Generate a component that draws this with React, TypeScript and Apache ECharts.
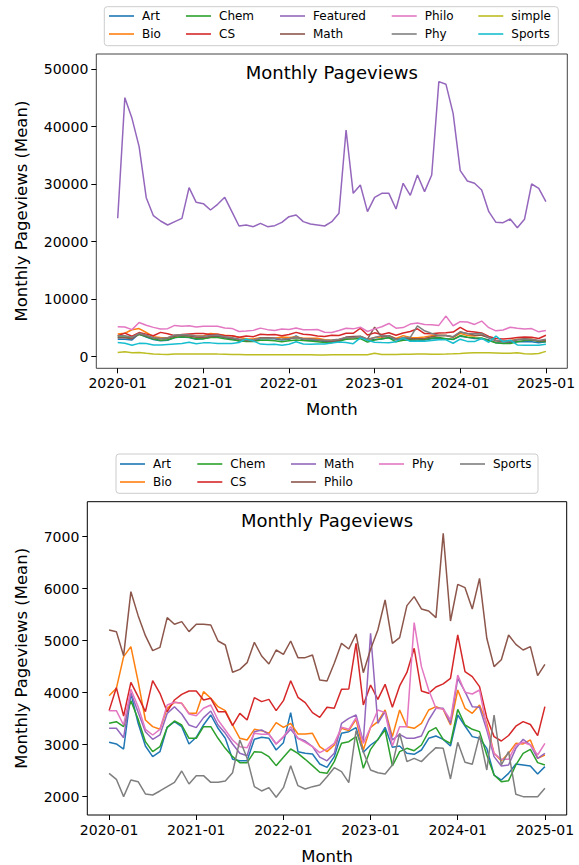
import React, { useEffect, useRef } from "react";
import * as echarts from "echarts";

const FONT = "DejaVu Sans";

const X_TICKS = [0, 12, 24, 36, 48, 60];
const X_TICK_LABELS = ["2020-01", "2021-01", "2022-01", "2023-01", "2024-01", "2025-01"];
const TOP_Y_TICKS = [0, 10000, 20000, 30000, 40000, 50000];
const BOTTOM_Y_TICKS = [2000, 3000, 4000, 5000, 6000, 7000];

const ART = [3046, 3014, 2917, 3988, 3411, 2975, 2770, 2866, 3334, 3443,
  3347, 3014, 3142, 3379, 3571, 3315, 3123, 2719, 2693, 2693,
  3103, 3142, 3123, 2898, 3039, 3616, 2866, 2834, 2821, 2629,
  2565, 2770, 3219, 3251, 3328, 2853, 2994, 3091, 3334, 2949,
  2975, 2834, 2815, 2898, 3123, 3167, 3103, 2975, 3571, 3360,
  3155, 3123, 2930, 2417, 2321, 2449, 2629, 2610, 2591, 2436,
  2578];
const BIO = [3943, 4084, 4693, 4885, 4212, 3475, 3347, 3296, 3700, 3815,
  3796, 3603, 3603, 4020, 3892, 3731, 3655, 3379, 3123, 3091,
  3296, 3270, 3219, 3424, 3334, 3411, 3206, 3206, 3219, 2962,
  2866, 2994, 3315, 3270, 3488, 2898, 3334, 3443, 3667, 3155,
  3667, 3347, 3315, 3411, 3667, 3731, 3680, 3379, 4052, 3699,
  3603, 3764, 3411, 2834, 2693, 2834, 3026, 3014, 3091, 2738,
  2802];
const CHEM = [3411, 3443, 3347, 3847, 3488, 3058, 2866, 2962, 3334, 3456,
  3379, 3123, 3123, 3347, 3347, 3123, 2930, 2770, 2655, 2655,
  2866, 2853, 2770, 2597, 2757, 2917, 2834, 2719, 2597, 2469,
  2449, 2674, 3026, 3058, 3155, 2545, 2911, 3103, 3283, 2591,
  2866, 2930, 2885, 2994, 3251, 3328, 3103, 3026, 3680, 3379,
  3296, 3251, 2802, 2417, 2289, 2308, 2610, 2834, 2911, 2655,
  2610];
const CS = [3655, 4097, 3552, 4199, 3924, 3635, 4231, 3988, 3635, 3860,
  3969, 4033, 4033, 3860, 3892, 3635, 3635, 3366, 3603, 3475,
  3905, 3828, 3872, 3655, 3847, 4231, 3911, 3808, 3616, 3526,
  3719, 3700, 4065, 4071, 4949, 3764, 4148, 3872, 4161, 3719,
  4130, 4390, 4853, 4033, 3988, 4110, 4170, 4276, 5110, 4405,
  4308, 4116, 3520, 3155, 3071, 3177, 3355, 3443, 3389, 3174,
  3731];
const MATH = [3315, 3315, 3135, 4001, 3622, 3251, 3103, 3187, 3603, 3731,
  3590, 3379, 3328, 3520, 3648, 3379, 3219, 3014, 2834, 2789,
  3251, 3283, 3200, 3014, 3142, 3296, 3123, 3071, 2962, 2760,
  2690, 2834, 3411, 3507, 3571, 3058, 5142, 3411, 3635, 3091,
  3200, 3123, 3123, 3167, 3475, 3699, 3699, 3411, 4276, 4020,
  3731, 3719, 3283, 2770, 2591, 2610, 2930, 3103, 2994, 2738,
  2834];
const PHILO = [5206, 5174, 4712, 5943, 5482, 5097, 4808, 4872, 5443, 5315,
  5366, 5174, 5315, 5315, 5302, 4994, 4917, 4392, 4449, 4578,
  4969, 4706, 4552, 4821, 4738, 4994, 4674, 4674, 4725, 4244,
  4225, 4565, 4949, 4840, 5129, 4385, 4834, 5206, 5783, 4949,
  5058, 5674, 5847, 5610, 5571, 5443, 7065, 5379, 6084, 6020,
  5610, 6199, 5046, 4501, 4635, 5110, 4930, 4821, 4885, 4328,
  4546];
const PHY = [3655, 3655, 3379, 4065, 3731, 3296, 3187, 3296, 3764, 3815,
  3796, 3590, 3558, 3700, 3764, 3475, 3283, 3091, 2962, 2943,
  3219, 3200, 3200, 3014, 3155, 3347, 3123, 3046, 2962, 2847,
  2920, 3026, 3334, 3296, 3520, 3026, 3334, 3667, 3616, 2975,
  3347, 3347, 5347, 4501, 4052, 3699, 3686, 3475, 4340, 4007,
  3975, 4052, 3334, 2834, 2719, 2719, 2994, 3046, 2994, 2802,
  3026];
const SPORTS = [2449, 2334, 2001, 2321, 2289, 2052, 2033, 2110, 2193, 2276,
  2494, 2244, 2405, 2405, 2276, 2276, 2302, 2462, 3091, 2738,
  2193, 2110, 2174, 1988, 2174, 2597, 2212, 2148, 2193, 2225,
  2385, 2558, 2481, 2270, 3270, 2866, 2513, 2462, 2436, 2610,
  3219, 2674, 2738, 2674, 2815, 2943, 2930, 2341, 3046, 2661,
  2623, 3174, 2513, 3571, 2610, 2866, 2046, 2001, 2001, 2001,
  2161];
const FEATURED = [24065, 45049, 41455, 36528, 27658, 24528, 23601, 22905, 23485, 24065,
  29400, 26847, 26615, 25514, 26499, 27716, 25224, 22731, 22905, 22615,
  23195, 22615, 22789, 23369, 24354, 24644, 23485, 23079, 22905, 22731,
  23485, 24934, 39426, 28412, 29861, 25224, 27716, 28412, 28412, 25688,
  30151, 28064, 31601, 28702, 31601, 47832, 47368, 42325, 32355, 30557,
  30151, 28992, 25224, 23369, 23311, 23949, 22441, 23891, 30035, 29281,
  26963];
const SIMPLE = [750, 850, 700, 750, 600, 480, 420, 400, 450, 450,
  450, 480, 480, 480, 450, 430, 400, 370, 330, 320,
  320, 330, 330, 320, 330, 340, 330, 320, 300, 300,
  330, 350, 330, 330, 320, 330, 600, 400, 380, 400,
  420, 440, 450, 450, 430, 430, 460, 500, 560, 640,
  680, 690, 690, 660, 600, 600, 680, 500, 470, 560,
  930];

const TOP_SERIES: [string, number[], string][] = [
  ["Art", ART, "#1f77b4"],
  ["Bio", BIO, "#ff7f0e"],
  ["Chem", CHEM, "#2ca02c"],
  ["CS", CS, "#d62728"],
  ["Featured", FEATURED, "#9467bd"],
  ["Math", MATH, "#8c564b"],
  ["Philo", PHILO, "#e377c2"],
  ["Phy", PHY, "#7f7f7f"],
  ["simple", SIMPLE, "#bcbd22"],
  ["Sports", SPORTS, "#17becf"],
];
const BOTTOM_SERIES: [string, number[], string][] = [
  ["Art", ART, "#1f77b4"],
  ["Bio", BIO, "#ff7f0e"],
  ["Chem", CHEM, "#2ca02c"],
  ["CS", CS, "#d62728"],
  ["Math", MATH, "#9467bd"],
  ["Philo", PHILO, "#8c564b"],
  ["Phy", PHY, "#e377c2"],
  ["Sports", SPORTS, "#7f7f7f"],
];

const TOP_LEGEND_COLS = [["Art", "Bio"], ["Chem", "CS"], ["Featured", "Math"], ["Philo", "Phy"], ["simple", "Sports"]];
const BOTTOM_LEGEND_COLS = [["Art", "Bio"], ["Chem", "CS"], ["Math", "Philo"], ["Phy"], ["Sports"]];

type Cfg = {
  series: [string, number[], string][];
  legendCols: string[][];
  legendX: number[];
  legendTop: number;
  legendBox: [number, number, number, number];
  grid: { left: number; top: number; width: number; height: number };
  frameColor: string;
  yMin: number;
  yMax: number;
  yTicks: number[];
  yNameGap: number;
  xNameGap: number;
  titleY: number;
};

function buildOption(c: Cfg) {
  const tickLabel = (v: number) => {
    const i = X_TICKS.indexOf(v);
    return i >= 0 ? X_TICK_LABELS[i] : "";
  };
  return {
    animation: false,
    textStyle: { fontFamily: FONT },
    grid: {
      ...c.grid,
      show: true,
      borderColor: c.frameColor,
      borderWidth: 1,
      backgroundColor: "transparent",
      containLabel: false,
      outerBoundsMode: "none",
    },
    xAxis: {
      type: "value",
      min: -3,
      max: 63,
      axisLine: { show: false, onZero: false },
      axisTick: { show: true, customValues: X_TICKS, length: 5, lineStyle: { color: "#000", width: 1 } },
      axisLabel: { customValues: X_TICKS, formatter: tickLabel, fontSize: 14, color: "#000", margin: 8, fontFamily: FONT },
      splitLine: { show: false },
      name: "Month",
      nameLocation: "middle",
      nameGap: c.xNameGap,
      nameTextStyle: { fontSize: 16.5, lineHeight: 16.5, color: "#000", fontFamily: FONT },
    },
    yAxis: {
      type: "value",
      min: c.yMin,
      max: c.yMax,
      axisLine: { show: false, onZero: false },
      axisTick: { show: true, customValues: c.yTicks, length: 5, lineStyle: { color: "#000", width: 1 } },
      axisLabel: {
        customValues: c.yTicks,
        formatter: (v: number) => String(Math.round(v)),
        fontSize: 14,
        color: "#000",
        margin: 8,
        fontFamily: FONT,
      },
      splitLine: { show: false },
      name: "Monthly Pageviews (Mean)",
      nameLocation: "middle",
      nameGap: c.yNameGap,
      nameTextStyle: { fontSize: 16.5, color: "#000", fontFamily: FONT },
    },
    legend: c.legendCols.map((col, i) => ({
      orient: "vertical",
      left: c.legendX[i],
      top: c.legendTop,
      padding: 0,
      itemGap: 4,
      itemWidth: 25,
      itemHeight: 1.6,
      icon: "rect",
      selectedMode: false,
      data: col,
      textStyle: { fontSize: 12, color: "#000", fontFamily: FONT, lineHeight: 14, padding: [0, 0, 0, 3] },
    })),
    graphic: [
      {
        type: "rect",
        z: 0,
        shape: { x: c.legendBox[0], y: c.legendBox[1], width: c.legendBox[2], height: c.legendBox[3], r: 3 },
        style: { fill: "rgba(255,255,255,0.8)", stroke: "#cccccc", lineWidth: 1 },
      },
      {
        type: "text",
        z: 10,
        x: c.grid.left + c.grid.width / 2,
        y: c.titleY,
        style: {
          text: "Monthly Pageviews",
          fontSize: 18,
          fontFamily: FONT,
          fill: "#000",
          textAlign: "center",
          textVerticalAlign: "middle",
        },
      },
    ],
    series: c.series.map(([name, arr, color]) => ({
      type: "line",
      name,
      data: arr.map((v, i) => [i, v]),
      showSymbol: false,
      symbol: "none",
      lineStyle: { width: 1.5, color },
      itemStyle: { color },
      emphasis: { disabled: true },
    })),
  };
}

const TOP_CFG: Cfg = {
  series: TOP_SERIES,
  legendCols: TOP_LEGEND_COLS,
  legendX: [109, 186, 280, 391.7, 478.3],
  legendTop: 9,
  legendBox: [104.3, 6.7, 454, 39],
  grid: { left: 96.3, top: 54, width: 471, height: 314.3 },
  frameColor: "#444",
  yMin: -2017,
  yMax: 52640,
  yTicks: TOP_Y_TICKS,
  yNameGap: 66,
  xNameGap: 33,
  titleY: 72,
};

const BOTTOM_CFG: Cfg = {
  series: BOTTOM_SERIES,
  legendCols: BOTTOM_LEGEND_COLS,
  legendX: [120, 197.3, 291, 379, 460],
  legendTop: 17,
  legendBox: [116, 14, 422, 39.3],
  grid: { left: 87.3, top: 61.7, width: 479.4, height: 313.3 },
  frameColor: "#000",
  yMin: 1648,
  yMax: 7673,
  yTicks: BOTTOM_Y_TICKS,
  yNameGap: 57,
  xNameGap: 33,
  titleY: 80,
};

function Chart({ cfg, top, height }: { cfg: Cfg; top: number; height: number }) {
  const ref = useRef<HTMLDivElement>(null);
  useEffect(() => {
    if (!ref.current) return;
    const chart = echarts.init(ref.current, undefined, { renderer: "svg" });
    chart.setOption(buildOption(cfg) as any);
    return () => chart.dispose();
  }, [cfg]);
  return <div ref={ref} style={{ position: "absolute", left: 0, top, width: 579, height }} />;
}

export default function App() {
  return (
    <div style={{ position: "absolute", left: 0, top: 0, width: 579, height: 865, background: "#fff", overflow: "hidden" }}>
      <Chart cfg={TOP_CFG} top={0} height={440} />
      <Chart cfg={BOTTOM_CFG} top={440} height={425} />
    </div>
  );
}
